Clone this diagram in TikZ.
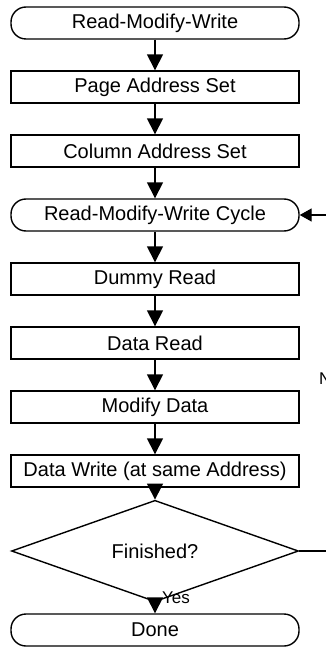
\documentclass[tikz,border=0pt]{standalone}
\usepackage{fontspec}
\setmainfont{Liberation Sans}
\usetikzlibrary{shapes.geometric,arrows.meta}
\begin{document}
\begin{tikzpicture}[x=1pt,y=-1pt,
  base/.style={draw=black,line width=1.4pt,minimum width=288pt,minimum height=32pt,inner sep=0pt,font=\fontsize{20}{24}\selectfont},
  procbox/.style={base,rectangle},
  termbox/.style={base,rectangle,rounded corners=15pt},
  decbox/.style={base,diamond,minimum width=287pt,minimum height=64pt},
  flow/.style={line width=1.5pt,-{Triangle[length=16pt,width=16pt]}},
  lab/.style={font=\fontsize{17}{20}\selectfont,inner sep=0pt}]
\useasboundingbox (0,0) rectangle (326,647);
\clip (0,0) rectangle (326,647);
\node[termbox] (start) at (155,23) {Read-Modify-Write};
\node[procbox] (page) at (155,87) {Page Address Set};
\node[procbox] (col) at (155,151) {Column Address Set};
\node[termbox] (cycle) at (155,215) {Read-Modify-Write Cycle};
\node[procbox] (dummy) at (155,279) {Dummy Read};
\node[procbox] (dread) at (155,343) {Data Read};
\node[procbox] (modify) at (155,407) {Modify Data};
\node[procbox] (write) at (155,471) {Data Write (at same Address)};
\node[decbox] (fin) at (155,551) {Finished?};
\node[termbox] (done) at (155,630) {Done};
\coordinate (c1) at (350,551);
\coordinate (c2) at (350,215);
\draw[flow] (start) -- (page);
\draw[flow] (page) -- (col);
\draw[flow] (col) -- (cycle);
\draw[flow] (cycle) -- (dummy);
\draw[flow] (dummy) -- (dread);
\draw[flow] (dread) -- (modify);
\draw[flow] (modify) -- (write);
\draw[flow] (write) -- (fin);
\draw[flow] (fin) -- (done);
\draw[line width=1.4pt,-{Triangle[length=12pt,width=13pt]}] (fin.east) -- (c1) -- (c2) -- (cycle.east);
\node[lab,anchor=west] (yes) at (162,598) {Yes};
\node[lab,anchor=west] (no) at (319,379) {No};
\end{tikzpicture}
\end{document}
